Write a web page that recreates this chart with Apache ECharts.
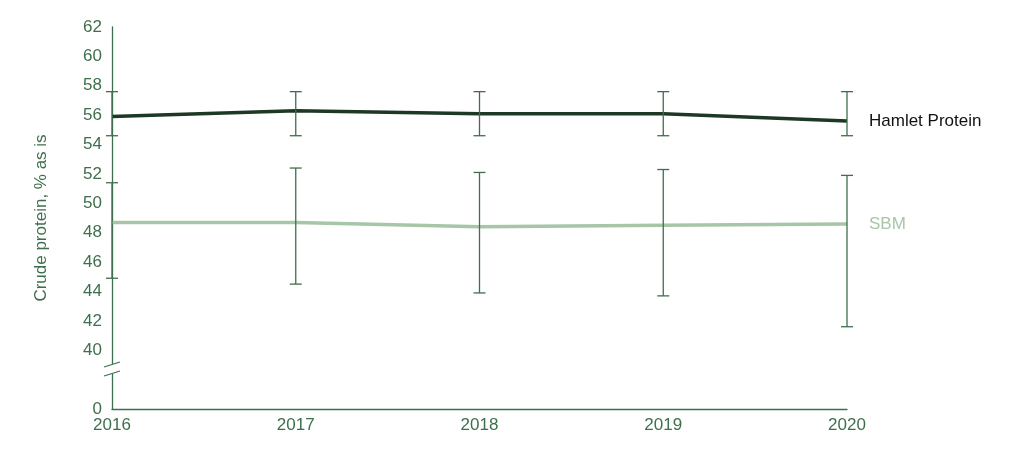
<!DOCTYPE html>
<html><head><meta charset="utf-8">
<script src="https://cdn.jsdelivr.net/npm/echarts@6/dist/echarts.min.js"></script>
<style>html,body{margin:0;background:#fff}#c{width:1018px;height:471px}</style>
</head><body><div id="c"></div>
<script>
const years=['2016','2017','2018','2019','2020'];
const hamlet=[55.9,56.3,56.1,56.1,55.6];
const hamletHi=[57.6,57.6,57.6,57.6,57.6];
const hamletLo=[54.6,54.6,54.6,54.6,54.6];
const sbm=[48.7,48.7,48.4,48.5,48.6];
const sbmHi=[51.4,52.4,52.1,52.3,51.9];
const sbmLo=[44.9,44.5,43.9,43.7,41.6];
const G='#3e6f4c';
const chart=echarts.init(document.getElementById('c'));
function errSeries(hi,lo){
  return {type:'custom',z:5,data:years.map((y,i)=>[i,hi[i],lo[i]]),
    renderItem:(p,api)=>{const a=api.coord([api.value(0),api.value(1)]),b=api.coord([api.value(0),api.value(2)]);
      const st={stroke:G,lineWidth:1.3};
      return {type:'group',children:[
        {type:'line',shape:{x1:a[0],y1:a[1],x2:b[0],y2:b[1]},style:st},
        {type:'line',shape:{x1:a[0]-6,y1:a[1],x2:a[0]+6,y2:a[1]},style:st},
        {type:'line',shape:{x1:b[0]-6,y1:b[1],x2:b[0]+6,y2:b[1]},style:st}]};}};
}
chart.setOption({
  animation:false,
  textStyle:{fontFamily:'Liberation Sans'},
  grid:{left:112,right:171,top:27,bottom:62},
  xAxis:{type:'category',data:years,boundaryGap:false,
    axisLine:{lineStyle:{color:G,width:1.3}},axisTick:{show:false},
    axisLabel:{color:G,fontSize:17,margin:8}},
  yAxis:{type:'value',min:36,max:62,interval:2,
    name:'Crude protein, % as is',nameLocation:'middle',nameGap:62,nameRotate:90,
    nameTextStyle:{color:G,fontSize:17},
    axisLine:{show:true,lineStyle:{color:G,width:1.3}},axisTick:{show:false},splitLine:{show:false},
    axisLabel:{color:G,fontSize:17,margin:10,formatter:v=>v===36?'0':(v===38?'':String(v))}},
  series:[
    {type:'line',data:hamlet,symbol:'none',lineStyle:{color:'#1e3826',width:3.5},
      endLabel:{show:true,formatter:'Hamlet Protein',color:'#111',fontSize:17,offset:[14,0]}},
    {type:'line',data:sbm,symbol:'none',lineStyle:{color:'#a7c6a8',width:3.5},
      endLabel:{show:true,formatter:'SBM',color:'#a7c6a8',fontSize:17,offset:[14,0]}},
    errSeries(hamletHi,hamletLo),errSeries(sbmHi,sbmLo)
  ],
  graphic:[
    {type:'rect',shape:{x:106,y:364,width:12,height:10},style:{fill:'#fff'},z:100},
    {type:'line',shape:{x1:104,y1:367,x2:120,y2:362},style:{stroke:G,lineWidth:1.3},z:101},
    {type:'line',shape:{x1:104,y1:376,x2:120,y2:371},style:{stroke:G,lineWidth:1.3},z:101}
  ]
});
</script></body></html>
